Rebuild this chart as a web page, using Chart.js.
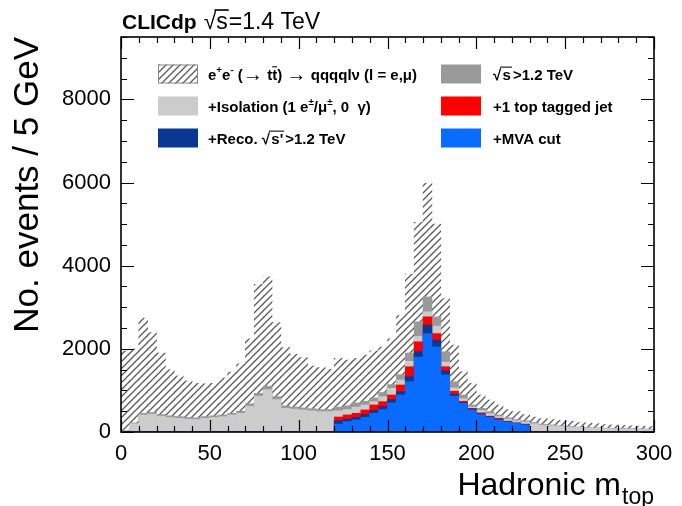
<!DOCTYPE html>
<html><head><meta charset="utf-8">
<script src="https://cdn.jsdelivr.net/npm/chart.js@4.4.0/dist/chart.umd.min.js"></script>
<style>html,body{margin:0;padding:0;background:#fff}#wrap{width:682px;height:506px}</style>
</head><body><div id="wrap"><canvas id="c" width="682" height="506"></canvas></div>
<script>
// ---- data (events per 5 GeV bin) ----
const binLow = [0,5,10,15,20,25,30,35,40,45,50,55,60,65,70,75,80,85,90,95,
  100,105,110,115,120,125,130,135,140,145,150,155,160,165,170,175,180,185,190,195,
  200,205,210,215,220,225,230,235,240,245,250,255,260,265,270,275,280,285,290,295];
const binWidth = 5;
const allEvents = [1950,2000,2740,2390,1900,1500,1350,1230,1170,1160,
  1170,1300,1440,1640,2240,3550,3730,2630,2030,1870,
  1790,1590,1550,1510,1770,1730,1770,1850,1950,2040,
  2240,2800,3800,5040,5980,5000,3210,2090,1450,1170,
  890,770,650,540,490,420,360,320,300,280,
  260,230,220,200,180,170,160,150,140,130];
const sqrtsCut = [30,220,450,470,420,390,370,350,340,370,
  390,410,450,500,680,930,1100,850,630,600,
  580,560,540,540,600,630,700,740,820,950,
  1140,1380,1900,2650,3250,2770,1930,1210,890,650,
  570,490,410,340,300,270,230,190,170,150,
  135,120,110,100,95,90,85,80,75,70];
const isolationCut = [20,200,410,430,380,350,330,310,300,330,
  350,370,410,450,620,860,1020,780,570,550,
  530,510,490,490,510,540,600,650,730,850,
  1050,1250,1700,2300,2890,2550,1680,1060,800,600,
  520,440,370,310,270,240,200,165,150,135,
  120,110,100,90,85,80,75,70,65,60];
const topTagCut = [0,0,0,0,0,0,0,0,0,0, 0,0,0,0,0,0,0,0,0,0, 0,0,0,0,
  360,410,450,530,650,730,
  890,1130,1570,2170,2770,2370,1570,980,740,570,
  460,380,330,260,220,190,
  0,0,0,0,0,0,0,0,0,0,0,0,0,0];
const recoCut = [0,0,0,0,0,0,0,0,0,0, 0,0,0,0,0,0,0,0,0,0, 0,0,0,0,
  270,310,350,420,520,610,
  780,970,1330,1930,2570,2210,1470,910,710,550,
  440,365,310,250,215,180,
  0,0,0,0,0,0,0,0,0,0,0,0,0,0];
const mvaCut = [0,0,0,0,0,0,0,0,0,0, 0,0,0,0,0,0,0,0,0,0, 0,0,0,0,
  190,250,290,350,450,540,
  700,890,1210,1800,2370,2050,1370,860,690,530,
  420,350,290,240,210,170,
  0,0,0,0,0,0,0,0,0,0,0,0,0,0];
const xTicks = [0,50,100,150,200,250,300];
const yTicks = [0,2000,4000,6000,8000];
const xRange = [0,300];
const yRange = [0,9500];

const FF = "'Liberation Sans', Arial, Helvetica, sans-serif";

// hatch pattern
const tile = document.createElement('canvas');
tile.width = 7; tile.height = 7;
const tctx = tile.getContext('2d');
tctx.strokeStyle = '#5a5a5a'; tctx.lineWidth = 1.25;
tctx.beginPath();
tctx.moveTo(-1, 8); tctx.lineTo(8, -1);
tctx.moveTo(-2, 2); tctx.lineTo(2, -2);
tctx.moveTo(5, 9); tctx.lineTo(9, 5);
tctx.stroke();
const ctx = document.getElementById('c').getContext('2d');
const hatch = ctx.createPattern(tile, 'repeat');

const pts = arr => binLow.map((lo, i) => ({x: lo + binWidth / 2, y: arr[i]}));

const datasets = [
  {label: 'e+e- (→ tt̄) → qqqqlν (l = e,μ)', data: pts(allEvents), backgroundColor: hatch, order: 5},
  {label: '√s>1.2 TeV', data: pts(sqrtsCut), backgroundColor: '#999999', order: 4},
  {label: '+Isolation (1 e±/μ±, 0 γ)', data: pts(isolationCut), backgroundColor: '#cccccc', order: 3},
  {label: '+1 top tagged jet', data: pts(topTagCut), backgroundColor: '#ff0000', order: 2},
  {label: "+Reco. √s'>1.2 TeV", data: pts(recoCut), backgroundColor: '#0a3791', order: 1},
  {label: '+MVA cut', data: pts(mvaCut), backgroundColor: '#0a6cff', order: 0}
].map(d => Object.assign(d, {barPercentage: 1, categoryPercentage: 1, grouped: false, borderWidth: 0}));

function drawRich(c, x, y, segs, size, weight) {
  for (const s of segs) {
    if (s.sqrt !== undefined) {
      c.font = `${weight} ${size}px ${FF}`;
      c.fillText('√', x, y);
      const rw = c.measureText('√').width;
      const tx = x + rw * 0.92 + (s.gap || 0);
      c.fillText(s.sqrt, tx, y);
      const w = c.measureText(s.sqrt).width;
      c.fillRect(x + rw * 0.85, y - size * 0.86, tx - x - rw * 0.85 + w + 1, Math.max(1, size * 0.07));
      x = tx + w + (s.gap || 0);
      continue;
    }
    const sz = s.sup ? size * 0.65 : size * (s.scale || 1);
    c.font = `${s.w || weight} ${sz}px ${FF}`;
    const dy = s.sup ? -size * 0.42 : (s.dy || 0);
    c.fillText(s.t, x, y + dy);
    const w = c.measureText(s.t).width;
    if (s.over) c.fillRect(x, y - size * 0.88, w, Math.max(1, size * 0.07));
    x += w;
  }
}

const legendLayout = [
  {ds: 0, col: 0, row: 0, segs: [{t:'e'},{t:'+',sup:1},{t:'e'},{t:'-',sup:1},{t:' ('},{t:'→',scale:1.35,w:'normal',dy:1},{t:' t'},{t:'t',over:1},{t:') '},{t:'→',scale:1.35,w:'normal',dy:1},{t:' qqqqlν (l = e,μ)'}]},
  {ds: 2, col: 0, row: 1, segs: [{t:'+Isolation (1 e'},{t:'±',sup:1},{t:'/μ'},{t:'±',sup:1},{t:', 0  γ)'}]},
  {ds: 4, col: 0, row: 2, segs: [{t:'+Reco. '},{sqrt:"s'", gap:2},{t:'>1.2 TeV'}]},
  {ds: 1, col: 1, row: 0, segs: [{sqrt:'s', gap:2},{t:'>1.2 TeV'}]},
  {ds: 3, col: 1, row: 1, segs: [{t:'+1 top tagged jet'}]},
  {ds: 5, col: 1, row: 2, segs: [{t:'+MVA cut'}]}
];

const decor = {
  id: 'decor',
  afterDatasetsDraw(chart) {
    const c = chart.ctx, a = chart.chartArea;
    const xs = chart.scales.x, ys = chart.scales.y;
    c.save();
    c.fillStyle = '#000'; c.strokeStyle = '#000';
    // ticks
    c.lineWidth = 1.2;
    c.beginPath();
    for (let v = xRange[0]; v <= xRange[1]; v += 10) {
      const px = Math.round(xs.getPixelForValue(v)) + 0.5;
      const L = (v % 50 === 0) ? 12 : 6;
      c.moveTo(px, a.bottom); c.lineTo(px, a.bottom - L);
      c.moveTo(px, a.top); c.lineTo(px, a.top + L);
    }
    for (let v = yRange[0]; v <= yRange[1]; v += 500) {
      const py = Math.round(ys.getPixelForValue(v)) + 0.5;
      const L = (v % 2000 === 0) ? 13 : 6;
      c.moveTo(a.left, py); c.lineTo(a.left + L, py);
      c.moveTo(a.right, py); c.lineTo(a.right - L, py);
    }
    c.stroke();
    // frame
    c.lineWidth = 1.6;
    c.strokeRect(a.left, a.top, a.right - a.left, a.bottom - a.top);

    // legend
    const boxX = [158, 441], textX = [208, 493], rowY = [74, 106, 138];
    for (const it of legendLayout) {
      const ds = chart.data.datasets[it.ds];
      const bx = boxX[it.col], by = rowY[it.row] - 9.5;
      c.fillStyle = ds.backgroundColor;
      c.fillRect(bx, by, 40, 19);
      if (it.ds === 0) { c.strokeStyle = '#888'; c.lineWidth = 1; c.strokeRect(bx + 0.5, by + 0.5, 39, 18); }
      c.fillStyle = '#000';
      c.textBaseline = 'alphabetic'; c.textAlign = 'left';
      drawRich(c, textX[it.col], rowY[it.row] + 5.5, it.segs, 15, 'bold');
    }

    // header
    c.font = `bold 21px ${FF}`;
    c.fillText('CLICdp', 122, 29);
    const w0 = c.measureText('CLICdp').width;
    drawRich(c, 122 + w0 + 7, 29, [{sqrt:'s', gap:1},{t:'=1.4 TeV'}], 23, 'normal');

    // y title
    c.save();
    c.translate(38, 37);
    c.rotate(-Math.PI / 2);
    c.textAlign = 'right';
    c.font = `normal 35px ${FF}`;
    c.fillText('No. events / 5 GeV', 0, 0);
    c.restore();

    // x title
    c.font = `normal 32px ${FF}`;
    const w1 = c.measureText('Hadronic m').width;
    c.font = `normal 23px ${FF}`;
    const w2 = c.measureText('top').width;
    const sx = a.right - 1 - w1 - w2;
    c.font = `normal 32px ${FF}`;
    c.fillText('Hadronic m', sx, 495);
    c.font = `normal 23px ${FF}`;
    c.fillText('top', sx + w1 + 1, 504);
    c.restore();
  }
};

new Chart(ctx, {
  type: 'bar',
  data: {datasets},
  options: {
    responsive: false, animation: false, devicePixelRatio: 1,
    layout: {padding: {left: 0, right: 28, top: 37, bottom: 0}},
    plugins: {legend: {display: false}, tooltip: {enabled: false}, title: {display: false}},
    scales: {
      x: {
        type: 'linear', min: xRange[0], max: xRange[1], offset: false,
        grid: {display: false, drawTicks: false}, border: {display: false},
        afterBuildTicks: s => { s.ticks = xTicks.map(v => ({value: v})); },
        afterFit: s => { s.height = 74; },
        ticks: {font: {family: FF, size: 22}, color: '#000', padding: 9, maxRotation: 0, autoSkip: false,
          callback: v => String(v)}
      },
      y: {
        type: 'linear', min: yRange[0], max: yRange[1],
        grid: {display: false, drawTicks: false}, border: {display: false},
        afterBuildTicks: s => { s.ticks = yTicks.map(v => ({value: v})); },
        afterFit: s => { s.width = 121; },
        ticks: {font: {family: FF, size: 22}, color: '#000', padding: 10, callback: v => String(v)}
      }
    }
  },
  plugins: [decor]
});
</script></body></html>
